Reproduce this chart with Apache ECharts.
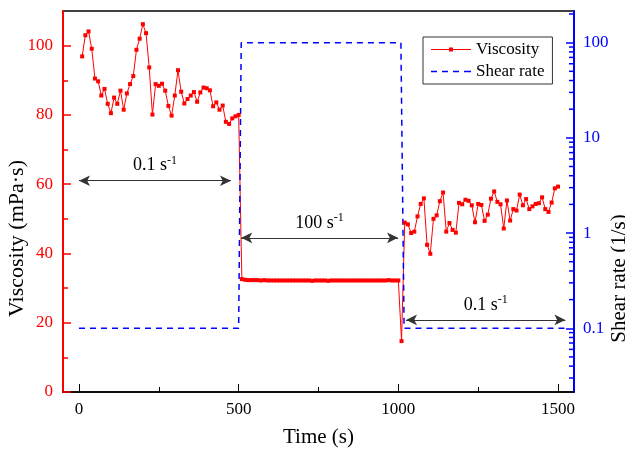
<!DOCTYPE html>
<html>
<head>
<meta charset="utf-8">
<script src="https://cdn.jsdelivr.net/npm/echarts@6/dist/echarts.min.js"></script>
<style>html,body{margin:0;padding:0;background:#fff}#c{width:625px;height:452px}</style>
</head>
<body>
<div id="c"></div>
<script>
// ---- data ----
const viscTime = [10,20,30,40,50,60,70,80,90,100,110,120,130,140,150,160,170,180,190,200,
210,220,230,240,250,260,270,280,290,300,310,320,330,340,350,360,370,380,390,400,
410,420,430,440,450,460,470,480,490,500,
510,520,530,540,550,560,570,580,590,600,610,620,630,640,650,660,670,680,690,700,
710,720,730,740,750,760,770,780,790,800,810,820,830,840,850,860,870,880,890,900,
910,920,930,940,950,960,970,980,990,1000,
1010,
1020,1030,1040,1050,1060,1070,1080,1090,1100,1110,1120,1130,1140,1150,1160,1170,1180,1190,1200,
1210,1220,1230,1240,1250,1260,1270,1280,1290,1300,1310,1320,1330,1340,1350,1360,1370,1380,1390,1400,
1410,1420,1430,1440,1450,1460,1470,1480,1490,1500];
const viscValue = [96.9,103.0,104.1,99.1,90.5,89.7,85.6,87.5,83.2,80.5,85.0,83.2,87.0,81.5,86.2,88.9,91.2,98.8,102.0,106.2,
103.6,93.7,80.1,88.9,88.4,89.0,87.0,82.6,79.8,85.6,92.9,86.7,83.3,84.6,85.6,86.6,83.8,86.5,87.9,87.7,
87.1,82.5,83.6,81.5,82.7,78.0,77.4,79.0,79.6,80.0,
32.6,32.4,32.3,32.3,32.3,32.3,32.2,32.3,32.2,32.2,32.2,32.2,32.2,32.2,32.2,32.2,32.2,32.2,32.2,32.2,
32.2,32.2,32.1,32.2,32.2,32.2,32.2,32.1,32.2,32.2,32.2,32.2,32.2,32.2,32.2,32.2,32.2,32.2,32.2,32.2,
32.2,32.2,32.2,32.2,32.2,32.2,32.3,32.2,32.2,32.2,
14.7,
48.9,48.4,45.9,46.3,50.7,54.3,55.9,42.5,39.9,50.0,51.0,55.1,57.6,46.3,48.8,46.8,46.0,54.6,54.2,55.5,
55.2,53.9,49.0,54.3,54.0,49.4,51.2,55.8,57.9,54.9,54.2,47.2,55.3,49.5,52.8,52.4,57.0,53.9,55.7,52.8,
53.6,54.3,54.5,56.2,52.8,52.0,54.7,58.8,59.3];
const shearTime = [0,500,508,1008,1018,1525];
const shearRate = [0.1,0.1,100,100,0.1,0.1];

const timeTicks = [0,500,1000,1500];
const timeMinorTicks = [250,750,1250];
const viscTicks = [0,20,40,60,80,100];
const viscMinorTicks = [10,30,50,70,90];
const rateMinorTicks = [0.03,0.04,0.05,0.06,0.07,0.08,0.09,0.2,0.3,0.4,0.5,0.6,0.7,0.8,0.9,
2,3,4,5,6,7,8,9,20,30,40,50,60,70,80,90,200];

// annotation arrows: [startTime, endTime, viscosity level, label value]
const arrowStart = [0,508,1024];
const arrowEnd = [476,999,1523];
const arrowLevel = [61,44.5,20.8];
const arrowText = ['0.1 s','100 s','0.1 s'];

const FONT = 'Liberation Serif';
const RED = '#ff0000', BLUE = '#0000ff';

const chart = echarts.init(document.getElementById('c'), null, {renderer:'canvas'});
const viscData = viscTime.map((t,i)=>[t, viscValue[i]]);
const shearData = shearTime.map((t,i)=>[t, shearRate[i]]);

const markLineData = arrowStart.map((s,i)=>[
  {coord:[s, arrowLevel[i]], label:{formatter:'{n|'+arrowText[i]+'}{s|-1}'}},
  {coord:[arrowEnd[i], arrowLevel[i]]}
]);

chart.setOption({
  animation:false,
  textStyle:{fontFamily:FONT},
  grid:{left:63,right:51,top:11,bottom:60,outerBoundsMode:'none',containLabel:false,
        show:true,borderColor:'#000',borderWidth:1.5,backgroundColor:'transparent'},
  legend:{
    orient:'vertical', left:423, top:37, padding:[4,8,4,8],
    itemWidth:40, itemHeight:14, itemGap:5, symbolKeepAspect:true,
    borderColor:'#333', borderWidth:1, backgroundColor:'#fff',
    textStyle:{fontFamily:FONT,fontSize:17,lineHeight:17,color:'#000'},
    data:[
      {name:'Viscosity', icon:'path://M0,1.6h18v0.9h-18z M18,0h4v4h-4z M22,1.6h18v0.9h-18z'},
      {name:'Shear rate', icon:'path://M0,0h6v1.4h-6z M11,0h6v1.4h-6z M22,0h6v1.4h-6z M33,0h7v1.4h-7z'}
    ]
  },
  xAxis:[{
    type:'value', min:-50, max:1550, position:'bottom',
    name:'Time (s)', nameLocation:'middle', nameGap:35,
    nameTextStyle:{fontFamily:FONT,fontSize:21,color:'#000'},
    axisLine:{lineStyle:{color:'#000',width:1.5}},
    axisTick:{inside:true,length:8,customValues:timeTicks,lineStyle:{color:'#000',width:1}},
    axisLabel:{customValues:timeTicks,formatter:v=>String(v),fontFamily:FONT,fontSize:17,color:'#000',margin:9},
    splitLine:{show:false}
  },{
    type:'value', min:-50, max:1550, position:'bottom',
    axisLine:{show:false},
    axisTick:{inside:true,length:5,customValues:timeMinorTicks,lineStyle:{color:'#000',width:1}},
    axisLabel:{show:false}, splitLine:{show:false}
  }],
  yAxis:[{
    type:'value', min:0, max:110, position:'left',
    name:'Viscosity (mPa·s)', nameLocation:'middle', nameGap:35, nameMoveOverlap:false,
    nameTextStyle:{fontFamily:FONT,fontSize:22,color:'#000',padding:[0,74,0,0]},
    axisLine:{onZero:false,lineStyle:{color:RED,width:2}},
    axisTick:{inside:true,length:8,customValues:viscTicks,lineStyle:{color:RED,width:1.5}},
    axisLabel:{customValues:viscTicks,fontFamily:FONT,fontSize:17,color:RED,margin:10},
    splitLine:{show:false}
  },{
    type:'log', logBase:10, min:0.0214, max:215, position:'right',
    name:'Shear rate (1/s)', nameLocation:'middle', nameGap:35, nameRotate:90, nameMoveOverlap:false,
    nameTextStyle:{fontFamily:FONT,fontSize:21,color:'#000',padding:[0,154,0,0]},
    axisLine:{onZero:false,lineStyle:{color:BLUE,width:2}},
    axisTick:{inside:true,length:8,lineStyle:{color:BLUE,width:1.5}},
    axisLabel:{showMinLabel:false,showMaxLabel:false,fontFamily:FONT,fontSize:17,color:BLUE,margin:9},
    splitLine:{show:false}
  },{
    type:'value', min:0, max:110, position:'left',
    axisLine:{show:false,onZero:false},
    axisTick:{inside:true,length:5,customValues:viscMinorTicks,lineStyle:{color:RED,width:1.5}},
    axisLabel:{show:false}, splitLine:{show:false}
  }],
  series:[{
    name:'Viscosity', type:'line', xAxisIndex:0, yAxisIndex:0,
    data:viscData, symbol:'rect', symbolSize:4, showAllSymbol:true,
    lineStyle:{color:RED,width:1}, itemStyle:{color:RED},
    markLine:{
      silent:true, symbol:['arrow','arrow'], symbolSize:[8,11],
      lineStyle:{color:'#333',width:1.2,type:'solid'},
      label:{show:true,position:'insideMiddleTop',distance:4,color:'#000',
        rich:{n:{fontFamily:FONT,fontSize:18,color:'#000',lineHeight:22},
              s:{fontFamily:FONT,fontSize:12,color:'#000',verticalAlign:'top',lineHeight:22,padding:[0,0,8,0]}}},
      data:markLineData
    }
  },{
    name:'Shear rate', type:'line', xAxisIndex:0, yAxisIndex:1,
    data:shearData, symbol:'none',
    lineStyle:{color:BLUE,width:1.5,type:[6,5]}, itemStyle:{color:BLUE}
  },{
    type:'custom', xAxisIndex:0, yAxisIndex:1, silent:true,
    data:rateMinorTicks.map(v=>[0,v]),
    renderItem:function(params, api){
      const y = api.coord([0, api.value(1)])[1];
      const cs = params.coordSys;
      const x = cs.x + cs.width;
      return {type:'line', shape:{x1:x-1,y1:y,x2:x-5,y2:y}, style:{stroke:BLUE,lineWidth:1.5}};
    }
  }]
});
</script>
</body>
</html>
